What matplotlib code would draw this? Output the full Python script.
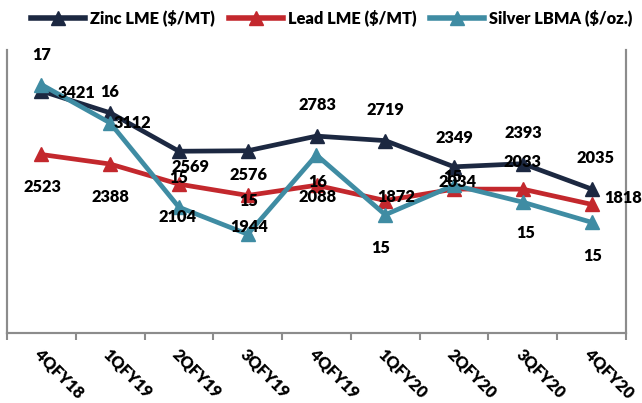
import matplotlib
matplotlib.use("Agg")
import matplotlib.pyplot as plt
from matplotlib.transforms import ScaledTranslation
from matplotlib.lines import Line2D

quarters = ["4QFY18", "1QFY19", "2QFY19", "3QFY19", "4QFY19",
            "1QFY20", "2QFY20", "3QFY20", "4QFY20"]
zinc = [3421, 3112, 2569, 2576, 2783, 2719, 2349, 2393, 2035]
lead = [2523, 2388, 2104, 1944, 2088, 1872, 2034, 2033, 1818]
silver = [16.95, 16.34, 15.0, 14.57, 15.83, 14.88, 15.35, 15.08, 14.76]

# label offsets in pixels (dx, dy), hand placed like the source chart
zinc_off = [(35, -2), (22, -10), (11, -16), (1, -24), (1, 31), (0, 31), (0, 29), (0, 31), (4, 31)]
lead_off = [(1, -33), (0, -33), (-1, -33), (1, -32), (1, -12), (11, 4), (3, 7), (0, 27), (31, 6)]
silver_off = [(0, 30), (0, 31), (0, 29), (1, 33), (1, -27), (-5, -33), (-1, 8), (3, -31), (1, -34)]

NAVY = "#1c2841"
RED = "#c3282d"
TEAL = "#3f8ca3"
GRAY = "#8c8c8c"

plt.rcParams["font.family"] = ["Lato", "DejaVu Sans"]
FS = 11.8
FW = 800

fig = plt.figure(figsize=(6.42, 4.03), dpi=100)
ax = fig.add_axes([7 / 642, 70 / 403, 619 / 642, 283 / 403])
ax2 = ax.twinx()

x = list(range(len(quarters)))
style = dict(lw=3.4, marker="^", ms=10.5, solid_joinstyle="round")
ax.plot(x, zinc, color=NAVY, zorder=3, **style)
ax.plot(x, lead, color=RED, zorder=2, **style)
ax2.plot(x, silver, color=TEAL, **style)

ax.set_xlim(-0.5, 8.5)
ax.set_ylim(0, 4000)
ax2.set_ylim(13, 17.5)

px = 0.72  # pixel -> point at dpi 100


def label(text, xy, off, xycoords):
    ax2.annotate(text, xy=xy, xycoords=xycoords,
                 xytext=(off[0] * px, off[1] * px), textcoords="offset points",
                 ha="center", va="center", fontsize=FS, fontweight=FW,
                 color="black", zorder=10)


for i in x:
    label(f"{zinc[i]}", (i, zinc[i]), zinc_off[i], ax.transData)
    label(f"{lead[i]}", (i, lead[i]), lead_off[i], ax.transData)
    label(f"{silver[i]:.0f}", (i, silver[i]), silver_off[i], ax2.transData)

for a in (ax, ax2):
    a.spines["top"].set_visible(False)
    for s in ("left", "right", "bottom"):
        a.spines[s].set_color(GRAY)
        a.spines[s].set_linewidth(1.5)
    a.set_yticks([])

ax.set_xticks(x)
ax.set_xticklabels(quarters, rotation=-45, ha="left", va="top",
                   rotation_mode="anchor", fontsize=FS, fontweight=FW)
ax.set_xticks([i - 0.5 for i in range(len(quarters) + 1)], minor=True)
ax.tick_params(axis="x", which="major", length=0, pad=10)
ax.tick_params(axis="x", which="minor", length=5, width=1.5, color=GRAY)
shift = ScaledTranslation(1 / 100, 0, fig.dpi_scale_trans)
for lbl in ax.get_xticklabels():
    lbl.set_transform(lbl.get_transform() + shift)

handles = [Line2D([], [], color=c, lw=4, marker="^", ms=10.5) for c in (NAVY, RED, TEAL)]
names = ["Zinc LME ($/MT)", "Lead LME ($/MT)", "Silver LBMA ($/oz.)"]
fig.legend(handles, names, loc="center", bbox_to_anchor=(0.517, 1 - 18 / 403), ncol=3,
           frameon=False, handlelength=3.3, handletextpad=0.3, columnspacing=0.85,
           prop=dict(size=FS, weight=FW))

fig.savefig("out.png", dpi=100)
